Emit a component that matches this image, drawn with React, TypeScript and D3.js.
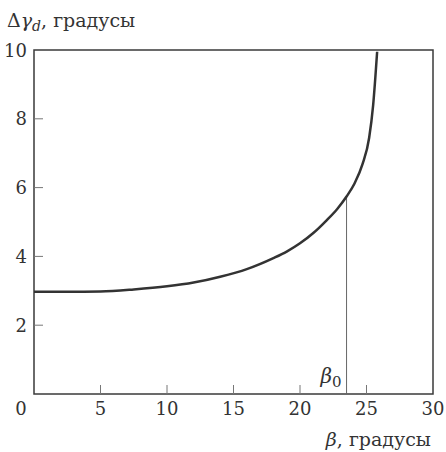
import React, { useEffect, useRef } from 'react';
import * as d3 from 'd3';

// curve (beta in degrees, delta gamma_d in degrees)
const beta = [0, 2.5, 5, 7.5, 10, 12, 14, 16, 18, 19, 20, 21, 22, 22.8, 23.5, 24.1, 24.7, 25.2, 25.5, 25.8];
const dGamma = [2.97, 2.97, 2.98, 3.04, 3.13, 3.24, 3.41, 3.63, 3.95, 4.14, 4.38, 4.68, 5.05, 5.38, 5.74, 6.12, 6.68, 7.45, 8.4, 9.95];

const xTicks = [0, 5, 10, 15, 20, 25, 30];
const yTicks = [2, 4, 6, 8, 10];
const beta0 = 23.5;
const beta0Value = 5.74;

const FONT = "'DejaVu Serif', 'Liberation Serif', serif";

export default function App() {
    const svgRef = useRef<SVGSVGElement>(null);

    useEffect(() => {
        const width = 446;
        const height = 452;
        const margin = { top: 50, right: 13, bottom: 58, left: 34 };

        const x = d3.scaleLinear().domain([0, 30]).range([margin.left, width - margin.right]);
        const y = d3.scaleLinear().domain([0, 10]).range([height - margin.bottom, margin.top]);

        const svg = d3.select(svgRef.current);
        svg.selectAll('*').remove();
        svg.style('font-family', FONT);

        const ink = '#3a3a3a';

        // frame
        svg.append('rect')
            .attr('x', x(0))
            .attr('y', y(10))
            .attr('width', x(30) - x(0))
            .attr('height', y(0) - y(10))
            .attr('fill', 'none')
            .attr('stroke', ink)
            .attr('stroke-width', 1.5);

        // inner ticks
        svg.append('g')
            .selectAll('line')
            .data(xTicks.filter(t => t > 0 && t < 30))
            .join('line')
            .attr('x1', d => x(d))
            .attr('x2', d => x(d))
            .attr('y1', y(0))
            .attr('y2', y(0) - 9)
            .attr('stroke', '#777')
            .attr('stroke-width', 1);

        svg.append('g')
            .selectAll('line')
            .data(yTicks.filter(t => t < 10))
            .join('line')
            .attr('x1', x(0))
            .attr('x2', x(0) + 9)
            .attr('y1', d => y(d))
            .attr('y2', d => y(d))
            .attr('stroke', '#777')
            .attr('stroke-width', 1);

        // tick labels
        svg.append('g')
            .selectAll('text')
            .data(xTicks)
            .join('text')
            .attr('x', d => (d === 0 ? x(d) - 13 : x(d)))
            .attr('y', y(0) + 21)
            .attr('text-anchor', 'middle')
            .style('font-size', '18px')
            .attr('fill', '#333')
            .text(d => d);

        svg.append('g')
            .selectAll('text')
            .data(yTicks)
            .join('text')
            .attr('x', x(0) - 7)
            .attr('y', d => y(d) + 6.5)
            .attr('text-anchor', 'end')
            .style('font-size', '18px')
            .attr('fill', '#333')
            .text(d => d);

        // beta0 marker
        svg.append('line')
            .attr('x1', x(beta0))
            .attr('x2', x(beta0))
            .attr('y1', y(0))
            .attr('y2', y(beta0Value))
            .attr('stroke', '#666')
            .attr('stroke-width', 1);

        const b0 = svg.append('text')
            .attr('x', x(beta0) - 5)
            .attr('y', y(0) - 11)
            .attr('text-anchor', 'end')
            .style('font-size', '20px')
            .attr('fill', '#333');
        b0.append('tspan').style('font-style', 'italic').text('β');
        b0.append('tspan').style('font-size', '15px').attr('dy', 4).text('0');

        // curve
        const line = d3.line<number>()
            .x((d, i) => x(beta[i]))
            .y(d => y(d))
            .curve(d3.curveMonotoneX);

        svg.append('path')
            .datum(dGamma)
            .attr('fill', 'none')
            .attr('stroke', '#333')
            .attr('stroke-width', 2.5)
            .attr('d', line);

        // axis titles
        const yTitle = svg.append('text')
            .attr('x', 7)
            .attr('y', 27)
            .style('font-size', '19px')
            .attr('fill', '#333');
        yTitle.append('tspan').text('Δ');
        yTitle.append('tspan').style('font-style', 'italic').text('γ');
        yTitle.append('tspan').style('font-style', 'italic').style('font-size', '14px').attr('dy', 4).text('d');
        yTitle.append('tspan').attr('dy', -4).text(', градусы');

        const xTitle = svg.append('text')
            .attr('x', 431)
            .attr('y', 446)
            .attr('text-anchor', 'end')
            .style('font-size', '19px')
            .attr('fill', '#333');
        xTitle.append('tspan').style('font-style', 'italic').text('β');
        xTitle.append('tspan').text(', градусы');
    }, []);

    return (
        <svg
            ref={svgRef}
            width={446}
            height={452}
            style={{ position: 'absolute', left: 0, top: 0, background: '#fff' }}
        />
    );
}
